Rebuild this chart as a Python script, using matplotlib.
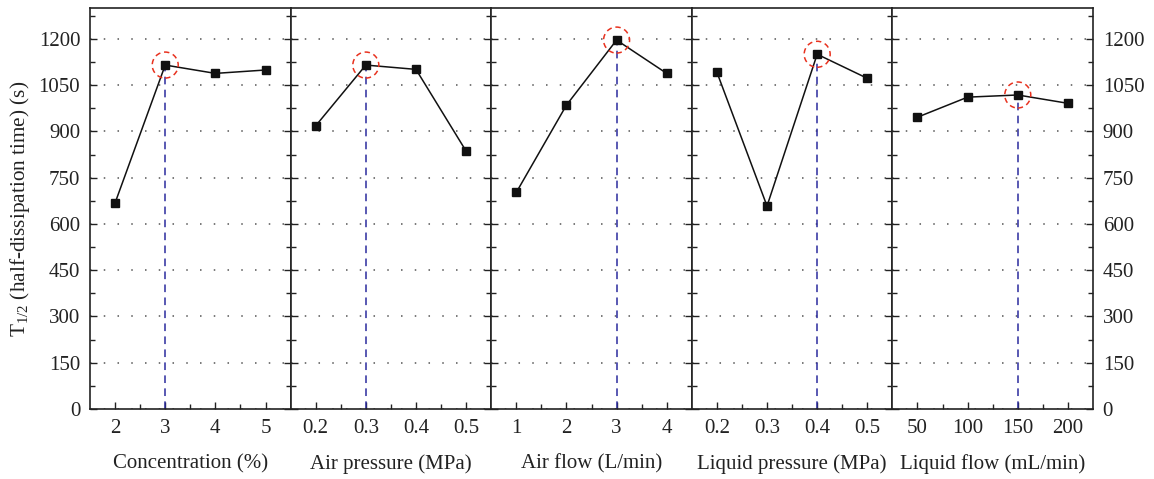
import matplotlib
matplotlib.use("Agg")
import matplotlib.pyplot as plt
from matplotlib.ticker import FixedLocator

plt.rcParams['font.family'] = ['Liberation Serif', 'DejaVu Serif']
plt.rcParams['mathtext.fontset'] = 'custom'
plt.rcParams['mathtext.rm'] = 'Liberation Serif'
plt.rcParams['mathtext.it'] = 'Liberation Serif:italic'

# Data
factors = ["Concentration (%)", "Air pressure (MPa)", "Air flow (L/min)",
           "Liquid pressure (MPa)", "Liquid flow (mL/min)"]
levels_conc = [2, 3, 4, 5]
levels_airp = [0.2, 0.3, 0.4, 0.5]
levels_airf = [1, 2, 3, 4]
levels_liqp = [0.2, 0.3, 0.4, 0.5]
levels_liqf = [50, 100, 150, 200]
labels_conc = ["2", "3", "4", "5"]
labels_airp = ["0.2", "0.3", "0.4", "0.5"]
labels_airf = ["1", "2", "3", "4"]
labels_liqp = ["0.2", "0.3", "0.4", "0.5"]
labels_liqf = ["50", "100", "150", "200"]
t_conc = [668, 1115, 1088, 1099]
t_airp = [918, 1115, 1101, 836]
t_airf = [702, 985, 1196, 1088]
t_liqp = [1092, 658, 1150, 1072]
t_liqf = [946, 1011, 1018, 991]
best_idx = [1, 1, 2, 2, 2]
yticks_major = [0, 150, 300, 450, 600, 750, 900, 1050, 1200]
yticks_minor = [75, 225, 375, 525, 675, 825, 975, 1125, 1275]

levels = [levels_conc, levels_airp, levels_airf, levels_liqp, levels_liqf]
labels = [labels_conc, labels_airp, labels_airf, labels_liqp, labels_liqf]
values = [t_conc, t_airp, t_airf, t_liqp, t_liqf]

fig = plt.figure(figsize=(11.54, 4.79), dpi=100)
left, right = 90 / 1154, 1093 / 1154
bottom, top = 1 - 409 / 479, 1 - 8 / 479
axes = fig.subplots(1, 5, gridspec_kw=dict(left=left, right=right, bottom=bottom, top=top, wspace=0))

fs = 15
ink = '#222222'
for i, ax in enumerate(axes):
    lv = levels[i]
    vals = values[i]
    pos = list(range(len(lv)))
    ax.set_xlim(-0.5, len(lv) - 0.5)
    ax.set_ylim(0, 1300)
    ax.yaxis.set_major_locator(FixedLocator(yticks_major))
    ax.yaxis.set_minor_locator(FixedLocator(yticks_minor))
    ax.set_xticks(pos)
    ax.set_xticklabels(labels[i])
    ax.xaxis.set_minor_locator(FixedLocator([p + 0.5 for p in pos[:-1]]))
    ax.grid(axis='y', which='major', linestyle=(0, (1, 8)), color='#555555', linewidth=1.1)
    ax.set_axisbelow(True)
    b = best_idx[i]
    ax.plot([pos[b], pos[b]], [0, vals[b]], color='#2b2b9e', linewidth=1.1,
            linestyle=(0, (5, 3.5)), zorder=2)
    ax.plot(pos, vals, color='#111111', linewidth=1.1, marker='s', markersize=6,
            markerfacecolor='#111111', markeredgecolor='#111111', zorder=3)
    ax.scatter([pos[b]], [vals[b]], s=350, facecolors='none', edgecolors='#e8321f',
               linewidths=1.1, linestyles=(0, (3.5, 2.5)), zorder=4)
    ax.tick_params(axis='both', which='both', direction='in', labelsize=fs, colors=ink)
    ax.tick_params(axis='y', which='major', left=True, right=True, length=5, width=1)
    ax.tick_params(axis='y', which='minor', left=True, right=True, length=3.5, width=1)
    ax.tick_params(axis='x', which='major', length=5, width=1, pad=7)
    ax.tick_params(axis='x', which='minor', length=3.5, width=1)
    ax.tick_params(axis='y', labelleft=(i == 0), labelright=(i == 4), pad=7)
    ax.set_xlabel(factors[i], fontsize=fs, labelpad=12, color=ink)
    for sp in ax.spines.values():
        sp.set_linewidth(1.2)
        sp.set_color(ink)

axes[0].set_ylabel(r'T$_{1/2}$ (half-dissipation time) (s)', fontsize=15.3, color=ink, labelpad=5)

fig.savefig('out.png', dpi=100)
